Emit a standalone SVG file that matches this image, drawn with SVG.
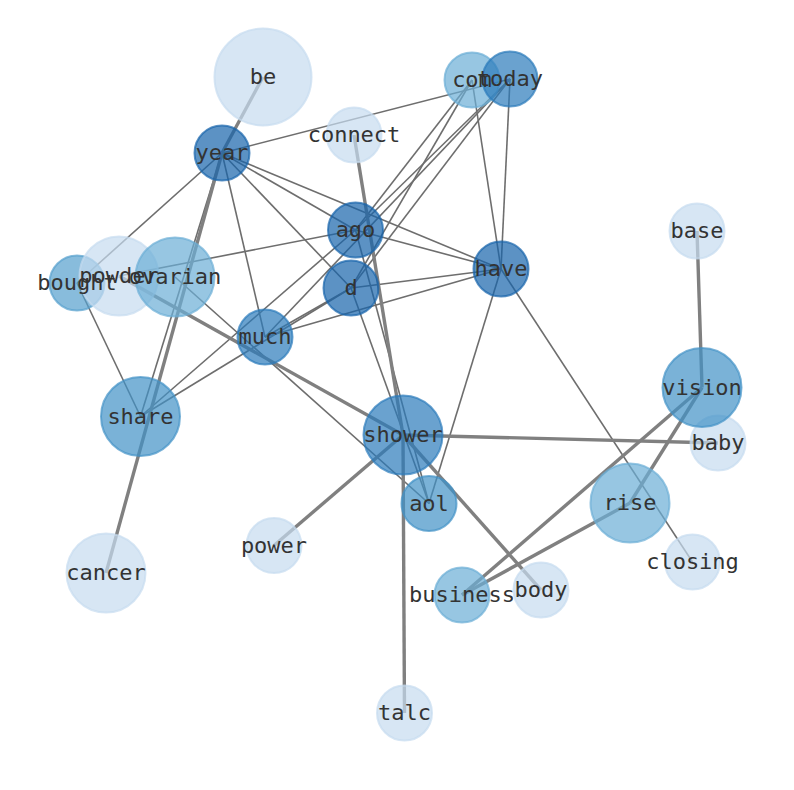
<svg xmlns="http://www.w3.org/2000/svg" width="794" height="790" viewBox="0 0 794 790">
<style>
.e1{stroke:#6e6e6e;stroke-width:1.6;fill:none}
.e2{stroke:#808080;stroke-width:3.4;fill:none}
circle{stroke-width:2;fill-opacity:0.7;stroke-opacity:0.7}
.c1{fill:#c6dbef;stroke:#c6dbef}
.c2{fill:#6baed6;stroke:#6baed6}
.c3{fill:#4292c6;stroke:#4292c6}
.c3b{fill:#559fcd;stroke:#559fcd}
.c4{fill:#2b7bba;stroke:#2b7bba}
.c5{fill:#1764ab;stroke:#1764ab}
text{font-family:"DejaVu Sans Mono","Liberation Mono",monospace;font-size:22px;fill:#333;text-anchor:middle}
</style>
<rect width="794" height="790" fill="#fff"/>
<g id="connectors">
<line class="e1" x1="222" y1="153" x2="510" y2="79"/>
<line class="e1" x1="222" y1="153" x2="501" y2="269"/>
<line class="e1" x1="222" y1="153" x2="355.5" y2="230"/>
<line class="e1" x1="222" y1="153" x2="351" y2="288"/>
<line class="e1" x1="222" y1="153" x2="265" y2="337"/>
<line class="e1" x1="222" y1="153" x2="140.5" y2="416.5"/>
<line class="e1" x1="77" y1="283" x2="222" y2="153"/>
<line class="e1" x1="77" y1="283" x2="140.5" y2="416.5"/>
<line class="e1" x1="119" y1="276" x2="355.5" y2="230"/>
<line class="e1" x1="175" y1="277" x2="429" y2="503.5"/>
<line class="e1" x1="140.5" y1="416.5" x2="355.5" y2="230"/>
<line class="e1" x1="140.5" y1="416.5" x2="351" y2="288"/>
<line class="e1" x1="265" y1="337" x2="351" y2="288"/>
<line class="e1" x1="265" y1="337" x2="501" y2="269"/>
<line class="e1" x1="351" y1="288" x2="501" y2="269"/>
<line class="e1" x1="355.5" y1="230" x2="501" y2="269"/>
<line class="e1" x1="265" y1="337" x2="510" y2="79"/>
<line class="e1" x1="355.5" y1="230" x2="510" y2="79"/>
<line class="e1" x1="355.5" y1="230" x2="472" y2="80"/>
<line class="e1" x1="351" y1="288" x2="510" y2="79"/>
<line class="e1" x1="351" y1="288" x2="472" y2="80"/>
<line class="e1" x1="472" y1="80" x2="501" y2="269"/>
<line class="e1" x1="510" y1="79" x2="501" y2="269"/>
<line class="e1" x1="501" y1="269" x2="429" y2="503.5"/>
<line class="e1" x1="501" y1="269" x2="692.5" y2="562"/>
<line class="e1" x1="351" y1="288" x2="429" y2="503.5"/>
<line class="e1" x1="355.5" y1="230" x2="429" y2="503.5"/>
<line class="e2" x1="263" y1="77" x2="222" y2="153"/>
<line class="e2" x1="222" y1="153" x2="106" y2="573"/>
<line class="e2" x1="119" y1="276" x2="403" y2="435"/>
<line class="e2" x1="354" y1="135" x2="403" y2="435"/>
<line class="e2" x1="403" y1="435" x2="718" y2="443"/>
<line class="e2" x1="403" y1="435" x2="404.5" y2="713"/>
<line class="e2" x1="403" y1="435" x2="274" y2="545.5"/>
<line class="e2" x1="403" y1="435" x2="541" y2="590"/>
<line class="e2" x1="697" y1="231" x2="702" y2="387.5"/>
<line class="e2" x1="702" y1="387.5" x2="630" y2="503"/>
<line class="e2" x1="702" y1="387.5" x2="462" y2="595"/>
<line class="e2" x1="630" y1="503" x2="462" y2="595"/>
</g>
<g id="nodes">
<g id="node-be"><circle class="c1" cx="263" cy="77" r="48.5"/></g>
<g id="node-connect"><circle class="c1" cx="354" cy="135" r="27.5"/></g>
<g id="node-com"><circle class="c2" cx="472" cy="80" r="27.5"/></g>
<g id="node-today"><circle class="c4" cx="510" cy="79" r="27.5"/></g>
<g id="node-year"><circle class="c5" cx="222" cy="153" r="27.5"/></g>
<g id="node-ago"><circle class="c5" cx="355.5" cy="230" r="27.5"/></g>
<g id="node-d"><circle class="c5" cx="351" cy="288" r="27.5"/></g>
<g id="node-have"><circle class="c5" cx="501" cy="269" r="27.5"/></g>
<g id="node-base"><circle class="c1" cx="697" cy="231" r="27.5"/></g>
<g id="node-bought"><circle class="c3b" cx="77" cy="283" r="27.5"/></g>
<g id="node-powder"><circle class="c1" cx="119" cy="276" r="39.5"/></g>
<g id="node-ovarian"><circle class="c2" cx="175" cy="277" r="39.5"/></g>
<g id="node-much"><circle class="c4" cx="265" cy="337" r="27.5"/></g>
<g id="node-share"><circle class="c3" cx="140.5" cy="416.5" r="39.5"/></g>
<g id="node-shower"><circle class="c4" cx="403" cy="435" r="39.5"/></g>
<g id="node-aol"><circle class="c3" cx="429" cy="503.5" r="27.5"/></g>
<g id="node-baby"><circle class="c1" cx="718" cy="443" r="27.5"/></g>
<g id="node-vision"><circle class="c3" cx="702" cy="387.5" r="39.5"/></g>
<g id="node-rise"><circle class="c2" cx="630" cy="503" r="39.5"/></g>
<g id="node-power"><circle class="c1" cx="274" cy="545.5" r="27.5"/></g>
<g id="node-closing"><circle class="c1" cx="692.5" cy="562" r="27.5"/></g>
<g id="node-cancer"><circle class="c1" cx="106" cy="573" r="39.5"/></g>
<g id="node-business"><circle class="c2" cx="462" cy="595" r="27.5"/></g>
<g id="node-body"><circle class="c1" cx="541" cy="590" r="27.5"/></g>
<g id="node-talc"><circle class="c1" cx="404.5" cy="713" r="27.5"/></g>
</g>
<g id="labels">
<text x="263" y="84">be</text>
<text x="354" y="142">connect</text>
<text x="472" y="87">com</text>
<text x="510" y="86">today</text>
<text x="222" y="160">year</text>
<text x="355.5" y="237">ago</text>
<text x="351" y="295">d</text>
<text x="501" y="276">have</text>
<text x="697" y="238">base</text>
<text x="77" y="290">bought</text>
<text x="119" y="283">powder</text>
<text x="175" y="284">ovarian</text>
<text x="265" y="344">much</text>
<text x="140.5" y="423.5">share</text>
<text x="403" y="442">shower</text>
<text x="429" y="510.5">aol</text>
<text x="718" y="450">baby</text>
<text x="702" y="394.5">vision</text>
<text x="630" y="510">rise</text>
<text x="274" y="552.5">power</text>
<text x="692.5" y="569">closing</text>
<text x="106" y="580">cancer</text>
<text x="462" y="602">business</text>
<text x="541" y="597">body</text>
<text x="404.5" y="720">talc</text>
</g>
</svg>
